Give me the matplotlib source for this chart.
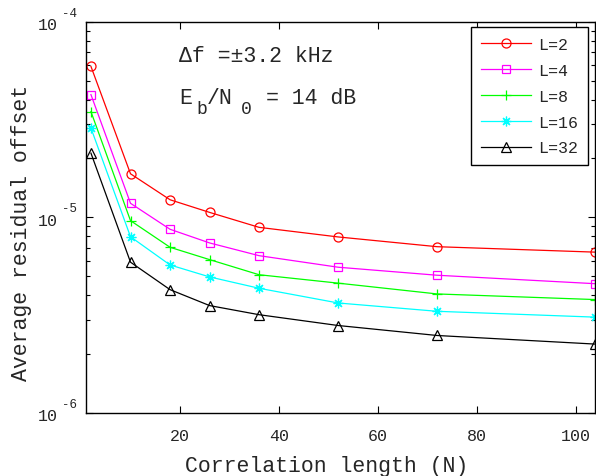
import numpy as np
import matplotlib
matplotlib.use('Agg')
import matplotlib.pyplot as plt

# correlation lengths and residual offsets
N = [2, 10, 18, 26, 36, 52, 72, 104]
off_L2 = [5.91e-5, 1.67e-5, 1.23e-5, 1.06e-5, 8.89e-6, 7.94e-6, 7.08e-6, 6.64e-6]
off_L4 = [4.24e-5, 1.18e-5, 8.69e-6, 7.40e-6, 6.37e-6, 5.56e-6, 5.06e-6, 4.58e-6]
off_L8 = [3.47e-5, 9.62e-6, 7.03e-6, 6.08e-6, 5.09e-6, 4.61e-6, 4.06e-6, 3.80e-6]
off_L16 = [2.86e-5, 7.96e-6, 5.71e-6, 4.96e-6, 4.34e-6, 3.65e-6, 3.31e-6, 3.09e-6]
off_L32 = [2.13e-5, 5.90e-6, 4.27e-6, 3.54e-6, 3.18e-6, 2.80e-6, 2.49e-6, 2.25e-6]
labels = ['L=2', 'L=4', 'L=8', 'L=16', 'L=32']
xticks = [20, 40, 60, 80, 100]
ydecades = [1e-6, 1e-5, 1e-4]
yexp = ['-6', '-5', '-4']

font = 'Liberation Mono'
txt = '#262626'
plt.rcParams['font.family'] = [font, 'DejaVu Sans']

W, H = 596, 477
fig = plt.figure(figsize=(W / 100, H / 100), dpi=100)
ax = fig.add_axes([86 / W, 1 - 414 / H, 509.3 / W, (414 - 22.7) / H])

series = [off_L2, off_L4, off_L8, off_L16, off_L32]
colors = ['#ff0000', '#ff00ff', '#00ff00', '#00ffff', '#000000']
markers = ['o', 's', '+', (8, 2, 0), '^']
msizes = [6.5, 5.5, 7, 7, 7]
for y, c, m, ms, lab in zip(series, colors, markers, msizes, labels):
    ax.plot(N, y, color=c, marker=m, markersize=ms, markerfacecolor='none',
            markeredgecolor=c, markeredgewidth=0.9, lw=0.9, label=lab, clip_on=False)

ax.set_yscale('log')
ax.set_xlim(1, 104)
ax.set_ylim(1e-6, 1e-4)
ax.set_xticks(xticks)
ax.set_xticklabels([str(v) for v in xticks])
ax.set_yticks(ydecades)
ax.set_yticklabels([])
ax.tick_params(which='both', direction='in', top=True, right=True, colors='k',
               labelcolor=txt, labelsize=12)
ax.tick_params(which='major', length=5, width=0.8, pad=11)
ax.tick_params(which='minor', length=3, width=0.8)
for s in ax.spines.values():
    s.set_linewidth(1.0)
    s.set_color('k')

# y tick labels drawn as 10 with a raised exponent, MATLAB style
ytr = ax.get_yaxis_transform()
for v, e in zip(ydecades, yexp):
    ax.annotate('10', xy=(0, v), xycoords=ytr, xytext=(-28, -3),
                textcoords='offset pixels', ha='right', va='center',
                fontsize=12, color=txt)
    ax.annotate(e, xy=(0, v), xycoords=ytr, xytext=(-24, 9),
                textcoords='offset pixels', ha='left', va='center',
                fontsize=9, color=txt)

ax.set_xlabel('Correlation length (N)', fontsize=15.5, color=txt)
ax.set_ylabel('Average residual offset', fontsize=15.5, color=txt)
ax.xaxis.set_label_coords(0.472, -0.108)
ax.yaxis.set_label_coords(-0.106, 0.4626)

# annotations
def ftext(x, y, s, size=15.5):
    fig.text(x / W, 1 - y / H, s, fontsize=size, color=txt, ha='left', va='center')

ftext(179, 57, 'Δf =±3.2 kHz')
ftext(179, 98, 'E')
ftext(196, 110, 'b', 13)
ftext(207, 98, '/N')
ftext(241, 110, '0', 13)
ftext(266, 98, '= 14 dB')

leg = ax.legend(loc='upper right', bbox_to_anchor=(588 / W, 1 - 28 / H),
                bbox_transform=fig.transFigure, fontsize=12, handlelength=3.0,
                handletextpad=0.4, borderpad=0.6, labelspacing=0.65,
                fancybox=False, framealpha=1, edgecolor='k', borderaxespad=0)
leg.get_frame().set_linewidth(1.0)
for t in leg.get_texts():
    t.set_color(txt)

fig.savefig('out.png', dpi=100)
